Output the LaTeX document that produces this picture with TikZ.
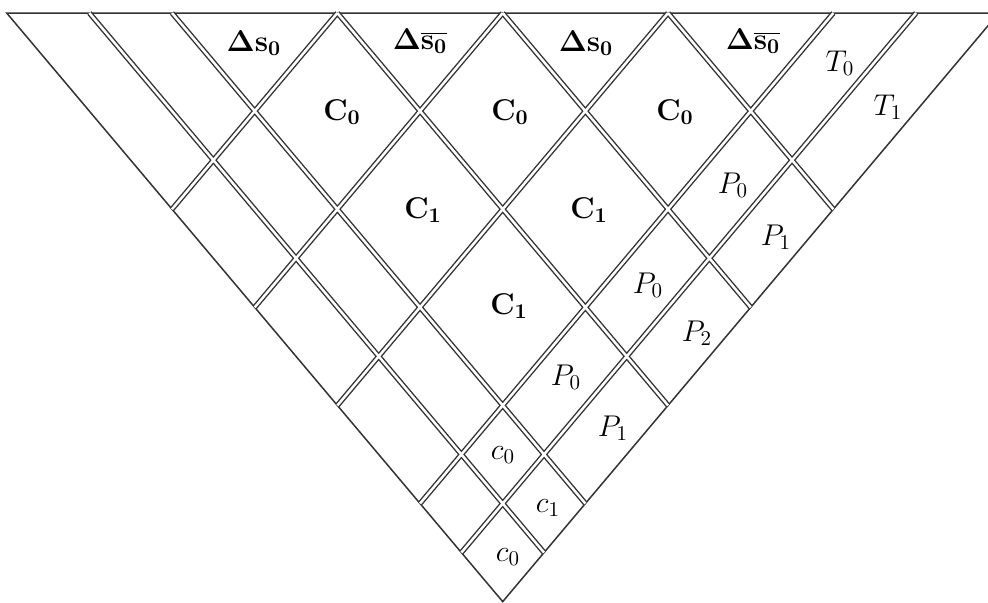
\RequirePackage{fix-cm}
\documentclass[tikz,border=0pt]{standalone}
\begin{document}
\begin{tikzpicture}[x=0.5pt,y=-0.5pt,
  gridline/.style={draw=black!80, line width=0.7pt, double=white, double distance=1.25pt},
  outline/.style={draw=black!80, line width=0.75pt, line join=miter},
  lbl/.style={inner sep=0pt, font=\fontsize{15}{18}\selectfont}]
\useasboundingbox (0,0) rectangle (988,602);
\begin{scope}[shift={(3.35pt,-6.5pt)}, x={(20.667pt,24.525pt)}, y={(20.667pt,-24.525pt)}]
  \draw[outline] (0,0) coordinate (tl) -- (12,12) coordinate (tr) -- (0,12) coordinate (apex) -- cycle;
  \draw[gridline]
    (1,1) -- (1,12)
    (2,2) -- (2,12)
    (4,4) -- (4,12)
    (6,6) -- (6,12)
    (8,8) -- (8,12)
    (0,4) -- (4,4)
    (0,6) -- (6,6)
    (0,8) -- (8,8)
    (0,10) -- (10,10)
    (0,11) -- (11,11);
\end{scope}
\node[lbl] (ds1)  at (254,43)  {$\mathbf{\Delta s_0}$};
\node[lbl] (dsb1) at (420,41)  {$\mathbf{\Delta\overline{s_0}}$};
\node[lbl] (ds2)  at (586,43)  {$\mathbf{\Delta s_0}$};
\node[lbl] (dsb2) at (753,41)  {$\mathbf{\Delta\overline{s_0}}$};
\node[lbl] (c0a)  at (342,112) {$\mathbf{C_0}$};
\node[lbl] (c0b)  at (510,112) {$\mathbf{C_0}$};
\node[lbl] (c0c)  at (675,112) {$\mathbf{C_0}$};
\node[lbl] (c1a)  at (423,210) {$\mathbf{C_1}$};
\node[lbl] (c1b)  at (589,210) {$\mathbf{C_1}$};
\node[lbl] (c1c)  at (509,306) {$\mathbf{C_1}$};
\node[lbl] (t0)   at (840,63)  {$T_0$};
\node[lbl] (t1)   at (888,107) {$T_1$};
\node[lbl] (p0a)  at (733,185) {$P_0$};
\node[lbl] (p1a)  at (776,237) {$P_1$};
\node[lbl] (p0b)  at (648,285) {$P_0$};
\node[lbl] (p2)   at (697,333) {$P_2$};
\node[lbl] (p0c)  at (566,377) {$P_0$};
\node[lbl] (p1b)  at (613,428) {$P_1$};
\node[lbl] (sc0a) at (503,455) {$c_0$};
\node[lbl] (sc1)  at (548,508) {$c_1$};
\node[lbl] (sc0b) at (508,557) {$c_0$};
\end{tikzpicture}
\end{document}
